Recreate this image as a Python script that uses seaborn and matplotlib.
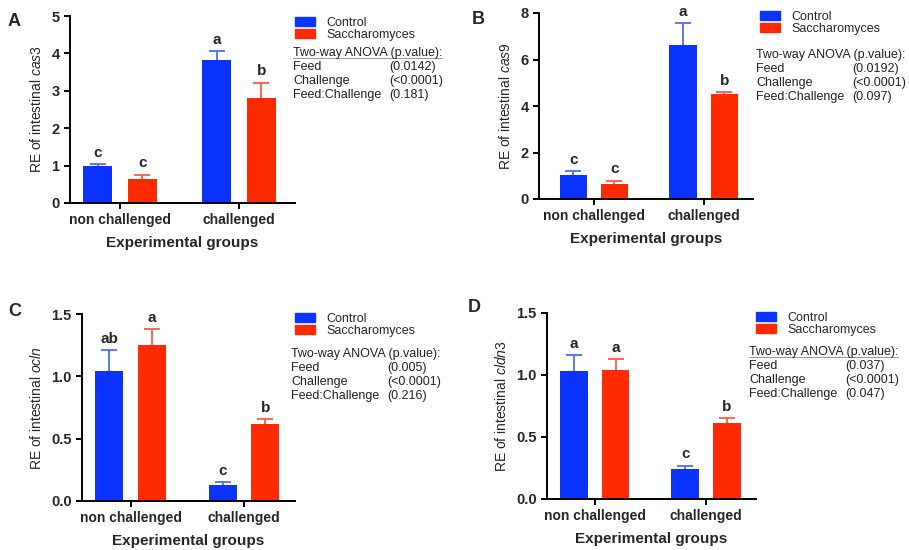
import matplotlib
matplotlib.use("Agg")
import pandas as pd
import numpy as np
import matplotlib.pyplot as plt
from matplotlib.lines import Line2D
import seaborn as sns

sns.set_style("ticks")
plt.rcParams["font.family"] = ["Liberation Sans", "DejaVu Sans"]
plt.rcParams["mathtext.fontset"] = "custom"
plt.rcParams["mathtext.rm"] = "Liberation Sans"
plt.rcParams["mathtext.it"] = "Liberation Sans:italic"

# data
groups = ["non challenged", "challenged"]
treatments = ["Control", "Saccharomyces"]

cas3_ctrl = [0.98, 3.82]
cas3_ctrl_sem = [0.05, 0.25]
cas3_sac = [0.65, 2.81]
cas3_sac_sem = [0.11, 0.41]
cas3_ctrl_letters = ["c", "a"]
cas3_sac_letters = ["c", "b"]
cas3_anova = ["(0.0142)", "(<0.0001)", "(0.181)"]

cas9_ctrl = [1.04, 6.61]
cas9_ctrl_sem = [0.17, 0.96]
cas9_sac = [0.64, 4.50]
cas9_sac_sem = [0.15, 0.10]
cas9_ctrl_letters = ["c", "a"]
cas9_sac_letters = ["c", "b"]
cas9_anova = ["(0.0192)", "(<0.0001)", "(0.097)"]

ocln_ctrl = [1.04, 0.126]
ocln_ctrl_sem = [0.17, 0.024]
ocln_sac = [1.25, 0.62]
ocln_sac_sem = [0.13, 0.035]
ocln_ctrl_letters = ["ab", "c"]
ocln_sac_letters = ["a", "b"]
ocln_anova = ["(0.005)", "(<0.0001)", "(0.216)"]

cldn3_ctrl = [1.03, 0.24]
cldn3_ctrl_sem = [0.13, 0.03]
cldn3_sac = [1.04, 0.61]
cldn3_sac_sem = [0.09, 0.04]
cldn3_ctrl_letters = ["a", "c"]
cldn3_sac_letters = ["a", "b"]
cldn3_anova = ["(0.037)", "(<0.0001)", "(0.047)"]

anova_terms = ["Feed", "Challenge", "Feed:Challenge"]

blue = "#0A33FF"
red = "#FF2A00"
blue_err = "#4D6EF5"
red_err = "#FF5A45"

W, H = 909, 550
fig = plt.figure(figsize=(W / 100, H / 100), dpi=100)


def fx(x):
    return x / W


def fy(y):
    return 1 - y / H


panels = [
    dict(letter="A", gene="cas3", ctrl=cas3_ctrl, ctrl_sem=cas3_ctrl_sem, sac=cas3_sac,
         sac_sem=cas3_sac_sem, ctrl_let=cas3_ctrl_letters, sac_let=cas3_sac_letters,
         anova=cas3_anova, ymax=5, ystep=1, fmt="{:.0f}",
         box=(70, 16, 295, 203), xlim=(-0.42, 1.47), letter_xy=(8, 22),
         leg_xy=(295, 17), anova_xy=(293, 53), underline=True),
    dict(letter="B", gene="cas9", ctrl=cas9_ctrl, ctrl_sem=cas9_ctrl_sem, sac=cas9_sac,
         sac_sem=cas9_sac_sem, ctrl_let=cas9_ctrl_letters, sac_let=cas9_sac_letters,
         anova=cas9_anova, ymax=8, ystep=2, fmt="{:.0f}",
         box=(539, 13, 753, 199), xlim=(-0.5, 1.45), letter_xy=(472, 20),
         leg_xy=(760, 11), anova_xy=(756, 55), underline=False),
    dict(letter="C", gene="ocln", ctrl=ocln_ctrl, ctrl_sem=ocln_ctrl_sem, sac=ocln_sac,
         sac_sem=ocln_sac_sem, ctrl_let=ocln_ctrl_letters, sac_let=ocln_sac_letters,
         anova=ocln_anova, ymax=1.5, ystep=0.5, fmt="{:.1f}",
         box=(82, 314, 295, 501), xlim=(-0.43, 1.45), letter_xy=(8, 311),
         leg_xy=(295, 313), anova_xy=(291, 354), underline=False),
    dict(letter="D", gene="cldn3", ctrl=cldn3_ctrl, ctrl_sem=cldn3_ctrl_sem, sac=cldn3_sac,
         sac_sem=cldn3_sac_sem, ctrl_let=cldn3_ctrl_letters, sac_let=cldn3_sac_letters,
         anova=cldn3_anova, ymax=1.5, ystep=0.5, fmt="{:.1f}",
         box=(547, 313, 756, 499), xlim=(-0.43, 1.45), letter_xy=(468, 308),
         leg_xy=(756, 312), anova_xy=(749, 352), underline=True),
]

underlined = []

for p in panels:
    l, t, r, b = p["box"]
    ax = fig.add_axes([fx(l), fy(b), (r - l) / W, (b - t) / H])

    df = pd.DataFrame({
        "group": groups * 2,
        "treatment": [treatments[0]] * 2 + [treatments[1]] * 2,
        "value": p["ctrl"] + p["sac"],
    })
    sns.barplot(data=df, x="group", y="value", hue="treatment", order=groups,
                hue_order=treatments, palette=[blue, red], saturation=1,
                width=0.75, gap=0.34, errorbar=None, legend=False, linewidth=0,
                zorder=2, ax=ax)

    sems = [p["ctrl_sem"], p["sac_sem"]]
    lets = [p["ctrl_let"], p["sac_let"]]
    ecols = [blue_err, red_err]
    for cont, sem, let, ec in zip(ax.containers[:2], sems, lets, ecols):
        xs = [bar.get_x() + bar.get_width() / 2 for bar in cont]
        ys = [bar.get_height() for bar in cont]
        eb = ax.errorbar(xs, ys, yerr=[np.zeros(len(sem)), sem], fmt="none",
                         ecolor=ec, elinewidth=1.3, capsize=5.5, capthick=1.3, zorder=1)
        # one-sided bars: hide the lower caps
        caps = eb.lines[1]
        if len(caps) == 2:
            caps[0].set_visible(False)
        for x, y, s, lab in zip(xs, ys, sem, let):
            ax.annotate(lab, (x, y + s), xytext=(0, 3), textcoords="offset points",
                        ha="center", va="bottom", fontsize=11, fontweight="bold")

    ax.set_xlim(*p["xlim"])
    ax.set_ylim(0, p["ymax"])
    yt = np.arange(0, p["ymax"] + p["ystep"] / 2, p["ystep"])
    ax.set_yticks(yt)
    ax.set_yticklabels([p["fmt"].format(v) for v in yt])
    sns.despine(ax=ax)
    for s in ["left", "bottom"]:
        ax.spines[s].set_linewidth(1.4)
        ax.spines[s].set_color("black")
        ax.spines[s].set_zorder(3)
    ax.tick_params(width=1.4, length=4.5, color="black", labelsize=10, pad=3)
    ax.tick_params(axis="y", labelsize=10.5)
    for lab in ax.get_xticklabels() + ax.get_yticklabels():
        lab.set_fontweight("bold")
    ax.set_xlabel("Experimental groups", fontsize=11, fontweight="bold", labelpad=6)
    ax.set_ylabel(r"RE of intestinal $\mathit{" + p["gene"] + "}$", fontsize=10, labelpad=5)

    lx, ly = p["letter_xy"]
    fig.text(fx(lx), fy(ly), p["letter"], fontsize=13, fontweight="bold", va="center", ha="left")

    handles = [plt.Rectangle((0, 0), 1, 1, color=blue), plt.Rectangle((0, 0), 1, 1, color=red)]
    gx, gy = p["leg_xy"]
    fig.legend(handles, treatments, loc="upper left", bbox_to_anchor=(fx(gx), fy(gy)),
               frameon=False, fontsize=9, handlelength=1.6, handleheight=0.7,
               handletextpad=0.9, labelspacing=0.0, borderpad=0, borderaxespad=0)

    axx, ayy = p["anova_xy"]
    head = fig.text(fx(axx), fy(ayy), "Two-way ANOVA (p.value):", fontsize=9,
                    va="center", ha="left", color="#222222")
    if p["underline"]:
        underlined.append(head)
    for i, (term, val) in enumerate(zip(anova_terms, p["anova"])):
        yy = ayy + 14 * (i + 1)
        fig.text(fx(axx), fy(yy), term, fontsize=9, va="center", ha="left", color="#222222")
        fig.text(fx(axx + 96), fy(yy), val, fontsize=9, va="center", ha="left", color="#222222")

renderer = fig.canvas.get_renderer()
for txt in underlined:
    bb = txt.get_window_extent(renderer)
    x0, y0 = fig.transFigure.inverted().transform((bb.x0, bb.y0 + 1))
    x1, _ = fig.transFigure.inverted().transform((bb.x1, bb.y0 + 1))
    fig.add_artist(Line2D([x0, x1], [y0, y0], transform=fig.transFigure,
                          color="#888888", linewidth=0.6))

fig.savefig("out.png", dpi=100)
plt.close()
